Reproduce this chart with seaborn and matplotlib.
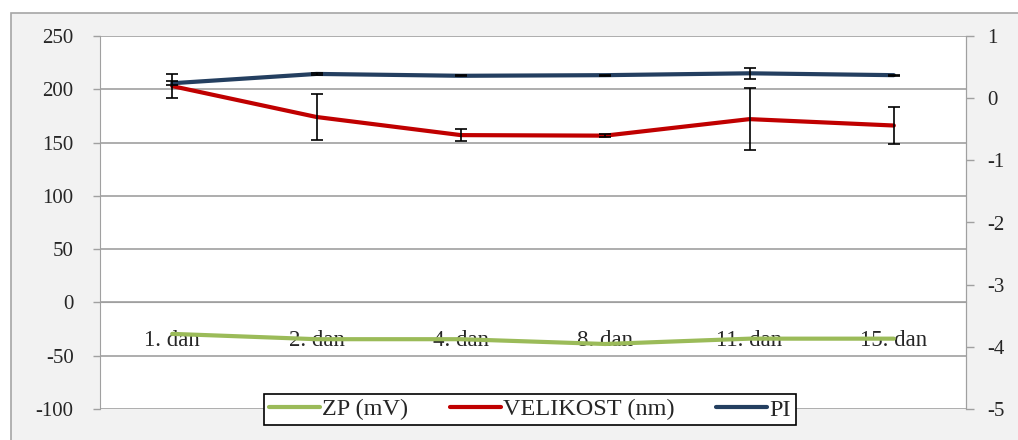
import numpy as np
import pandas as pd
import matplotlib
matplotlib.use('Agg')
import matplotlib.pyplot as plt
from matplotlib.patches import Rectangle
import seaborn as sns

# ---- podatki ----
dnevi = ['1. dan', '2. dan', '4. dan', '8. dan', '11. dan', '15. dan']
zp_mv = [-29.5, -34.5, -34.5, -39, -34, -34]
velikost_nm = [203, 174, 157, 156.5, 172, 166]
velikost_err = [11, 22, 5.5, 1.5, 29, 17]
pi_vals = [0.24, 0.39, 0.36, 0.37, 0.40, 0.37]
pi_err = [0.03, 0.02, 0.01, 0.01, 0.09, 0.01]

df = pd.DataFrame({
    'pos': np.arange(len(dnevi)),
    'zp': zp_mv,
    'velikost': velikost_nm,
    'pi': pi_vals,
})

sns.set_style('white')
plt.rcParams['font.family'] = ['Liberation Serif', 'DejaVu Serif']
plt.rcParams['axes.unicode_minus'] = False

C_ZP = '#9BBB59'
C_VEL = '#C00000'
C_PI = '#243F60'
C_GRID = '#A0A0A0'
FS_Y = 15
FS_X = 16.5
FS_LEG = 17.5

fig = plt.figure(figsize=(10.18, 4.4), dpi=100)
fig.patch.set_facecolor('white')
# siv okvir okoli grafa (kot v Excelu)
fig.patches.append(Rectangle((11 / 1018, -0.02), 1.0, 1 - 13 / 440 + 0.02,
                             transform=fig.transFigure, facecolor='#F2F2F2',
                             edgecolor='#A6A6A6', lw=1.2, zorder=-10))

ax = fig.add_axes([100 / 1018, 1 - 409 / 440, 866 / 1018, 373 / 440])
ax.set_facecolor('white')

sns.lineplot(data=df, x='pos', y='zp', ax=ax, color=C_ZP, lw=3, label='ZP (mV)')
sns.lineplot(data=df, x='pos', y='velikost', ax=ax, color=C_VEL, lw=3, label='VELIKOST (nm)')
ax.errorbar(df['pos'], df['velikost'], yerr=velikost_err, fmt='none', ecolor='black',
            elinewidth=1.2, capsize=4, capthick=1.2, zorder=5)

ax.set_xlim(-0.5, len(dnevi) - 0.5)
ax.set_ylim(-100, 250)
ax.set_yticks(np.arange(-100, 251, 50))
ax.yaxis.grid(True, color=C_GRID, lw=1.2)
ax.set_axisbelow(True)
ax.set_xlabel('')
ax.set_ylabel('')

ax.spines['top'].set_visible(False)
ax.spines['bottom'].set_position(('data', 0))
ax.spines['bottom'].set_color(C_GRID)
ax.spines['left'].set_color(C_GRID)
ax.spines['right'].set_color(C_GRID)

ax.set_xticks(df['pos'])
ax.set_xticklabels(dnevi, fontsize=FS_X)
ax.set_xticks(np.arange(0.5, len(dnevi) - 0.5, 1), minor=True)
ax.tick_params(axis='x', which='major', length=0, pad=20)
ax.tick_params(axis='x', which='minor', length=4, color=C_GRID, direction='out', width=1)
ax.tick_params(axis='y', length=5, color=C_GRID, width=1, pad=14, labelsize=FS_Y,
               left=True, direction='out')

ax2 = ax.twinx()
sns.lineplot(data=df, x='pos', y='pi', ax=ax2, color=C_PI, lw=3, label='PI')
ax2.errorbar(df['pos'], df['pi'], yerr=pi_err, fmt='none', ecolor='black',
             elinewidth=1.2, capsize=4, capthick=1.2, zorder=5)
ax2.set_ylim(-5, 1)
ax2.set_yticks(np.arange(-5, 2, 1))
ax2.set_ylabel('')
for s in ['top', 'bottom', 'left']:
    ax2.spines[s].set_visible(False)
ax2.spines['right'].set_color(C_GRID)
ax2.tick_params(axis='y', length=6, color=C_GRID, width=1, pad=9, labelsize=FS_Y,
                right=True, direction='out')

h1, l1 = ax.get_legend_handles_labels()
h2, l2 = ax2.get_legend_handles_labels()
ax.get_legend().remove()
ax2.get_legend().remove()
leg = fig.legend(h1 + h2, l1 + l2, loc='center', bbox_to_anchor=(530 / 1018, 1 - 409.5 / 440),
                 ncol=3, fontsize=FS_LEG, frameon=True, fancybox=False, handlelength=2.1,
                 columnspacing=1.7, handletextpad=0.1, borderpad=0.2, borderaxespad=0)
leg.get_frame().set_edgecolor('black')
leg.get_frame().set_linewidth(1.2)
leg.get_frame().set_facecolor('white')
leg.get_frame().set_alpha(1)

fig.savefig('out.png', dpi=100)
